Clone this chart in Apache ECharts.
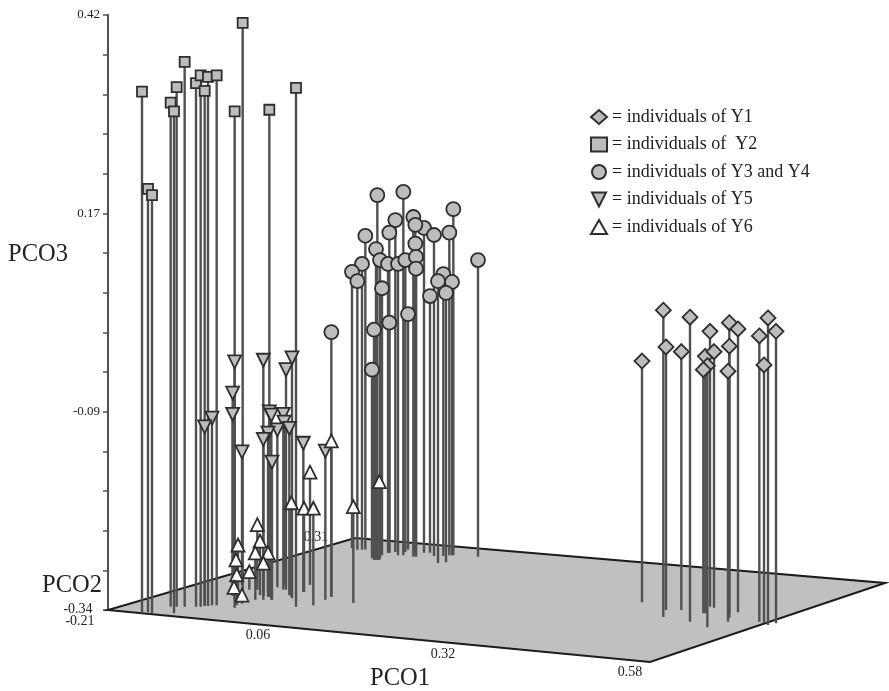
<!DOCTYPE html>
<html><head><meta charset="utf-8"><style>html,body{margin:0;padding:0;background:#fff}#c{width:889px;height:691px}</style>
<script src="https://cdn.jsdelivr.net/npm/echarts@6/dist/echarts.min.js"></script></head><body><div id="c"></div>
<script>
// Projected PCO1 position, floor level and PCO3 top of each individual.
const y1X=[0.591,0.623,0.627,0.650,0.663,0.693,0.686,0.699,0.689,0.683,0.722,0.735,0.722,0.720,0.767,0.780,0.792,0.774];
const y1Floor=[-0.330,-0.349,-0.340,-0.340,-0.355,-0.336,-0.344,-0.337,-0.362,-0.344,-0.344,-0.343,-0.350,-0.355,-0.355,-0.359,-0.357,-0.357];
const y1Top=[-0.022,0.043,-0.004,-0.010,0.034,0.016,-0.016,-0.010,-0.028,-0.033,0.027,0.019,-0.003,-0.035,0.010,0.033,0.016,-0.027];

const y2X=[-0.159,-0.150,-0.144,-0.116,-0.111,-0.107,-0.095,-0.078,-0.071,-0.060,-0.065,-0.047,-0.020,-0.008,0.032,0.072];
const y2Floor=[-0.344,-0.343,-0.344,-0.336,-0.344,-0.336,-0.336,-0.336,-0.336,-0.335,-0.335,-0.334,-0.337,-0.327,-0.323,-0.336];
const y2Top=[0.322,0.198,0.190,0.308,0.297,0.328,0.360,0.333,0.343,0.341,0.323,0.343,0.297,0.410,0.299,0.327];

const y34X=[0.194,0.233,0.308,0.345,0.176,0.221,0.248,0.212,0.264,0.279,0.302,0.251,0.251,0.192,0.198,0.210,0.225,0.236,0.252,0.252,0.171,0.156,0.164,0.201,0.293,0.285,0.306,0.297,0.273,0.240,0.212,0.189,0.186,0.125];
const y34Floor=[-0.276,-0.270,-0.270,-0.272,-0.263,-0.266,-0.272,-0.267,-0.267,-0.271,-0.270,-0.266,-0.270,-0.276,-0.274,-0.267,-0.270,-0.266,-0.267,-0.272,-0.263,-0.261,-0.263,-0.270,-0.271,-0.280,-0.270,-0.279,-0.267,-0.263,-0.267,-0.276,-0.274,-0.323];
const y34Top=[0.190,0.194,0.172,0.107,0.138,0.158,0.162,0.142,0.148,0.139,0.142,0.152,0.128,0.121,0.107,0.102,0.102,0.107,0.111,0.096,0.102,0.092,0.080,0.071,0.089,0.080,0.079,0.065,0.061,0.038,0.027,0.018,-0.033,0.015];

const y5X=[-0.020,-0.023,-0.023,-0.054,-0.065,-0.009,0.023,0.066,0.057,0.032,0.035,0.053,0.054,0.044,0.062,0.030,0.023,0.036,0.083,0.116];
const y5Floor=[-0.327,-0.322,-0.314,-0.334,-0.334,-0.308,-0.322,-0.325,-0.314,-0.323,-0.327,-0.314,-0.308,-0.311,-0.321,-0.317,-0.327,-0.327,-0.317,-0.327];
const y5Top=[-0.023,-0.063,-0.090,-0.095,-0.106,-0.138,-0.021,-0.018,-0.033,-0.087,-0.091,-0.090,-0.100,-0.110,-0.108,-0.114,-0.122,-0.151,-0.127,-0.137];

const y6X=[0.014,-0.015,0.018,0.011,0.030,-0.018,0.023,0.002,-0.017,-0.021,-0.009,0.065,0.084,0.098,0.158,0.125,0.093,0.197];
const y6Floor=[-0.314,-0.331,-0.321,-0.327,-0.323,-0.327,-0.322,-0.314,-0.334,-0.322,-0.332,-0.323,-0.317,-0.334,-0.331,-0.323,-0.308,-0.276];
const y6Top=[-0.231,-0.257,-0.252,-0.267,-0.267,-0.276,-0.280,-0.291,-0.295,-0.311,-0.321,-0.203,-0.210,-0.210,-0.208,-0.124,-0.164,-0.176];

const planeX=[-0.21,0.603,0.9555,0.1605];
const planeY=[-0.34,-0.4064,-0.3055,-0.248];

const pco3Ticks=[-0.34,-0.2893,-0.2387,-0.188,-0.1373,-0.0867,-0.036,0.0147,0.0653,0.116,0.1667,0.2173,0.268,0.3187,0.3693,0.42];
const pco3Labels=[-0.0867,0.1667,0.42];

const floorTickText=['-0.34','-0.21','0.06','0.32','0.58','0.31'];
const floorTickX=[-0.255,-0.252,0.015,0.2925,0.573,0.102];
const floorTickY=[-0.3387,-0.354,-0.3719,-0.3962,-0.4192,-0.2467];

const legendNames=['= individuals of Y1','= individuals of  Y2','= individuals of Y3 and Y4','= individuals of Y5','= individuals of Y6'];

const SERIF='"Liberation Serif","Times New Roman",serif';
const STEM='#505050', EDGE='#2e2e2e', GREY='#bdbdbd';

const zip=(...a)=>a[0].map((_,i)=>a.map(c=>c[i]));

function stems(xs,floors,tops){
  return {type:'custom',silent:true,clip:false,data:zip(xs,floors,tops),
    encode:{x:0,y:[1,2]},
    renderItem(p,api){
      const a=api.coord([api.value(0),api.value(1)]),b=api.coord([api.value(0),api.value(2)]);
      return {type:'line',shape:{x1:a[0],y1:a[1],x2:b[0],y2:b[1]},style:{stroke:STEM,lineWidth:2.4}};
    }};
}
function marks(name,xs,tops,symbol,size,fill,rotate){
  return {type:'scatter',name,silent:true,clip:false,data:zip(xs,tops),symbol,symbolSize:size,symbolRotate:rotate||0,
    itemStyle:{color:fill,opacity:1,borderColor:EDGE,borderWidth:1.8}};
}
const plane={type:'custom',silent:true,clip:false,data:zip(planeX,planeY),encode:{x:0,y:1},
  renderItem(p,api){
    if(p.dataIndex!==0) return null;
    return {type:'polygon',shape:{points:zip(planeX,planeY).map(d=>api.coord(d))},
      style:{fill:'#c0c0c0',stroke:'#1c1c1c',lineWidth:2}};
  }};
const floorTicks={type:'custom',silent:true,clip:false,z:1,data:zip(floorTickX,floorTickY),encode:{x:0,y:1},
  renderItem(p,api){
    const c=api.coord([api.value(0),api.value(1)]);
    return {type:'text',style:{text:floorTickText[p.dataIndex],x:c[0],y:c[1],align:'center',verticalAlign:'middle',
      font:'14px '+SERIF,fill:'#222'}};
  }};

const chart=echarts.init(document.getElementById('c'),null,{renderer:'canvas'});
const lab=(text,x,y)=>({type:'text',x,y,style:{text,font:'24.5px '+SERIF,fill:'#222',textVerticalAlign:'middle'}});
chart.setOption({
  animation:false,backgroundColor:'#fff',
  grid:{left:108,top:15,bottom:81,width:526.67,containLabel:false},
  xAxis:{type:'value',min:-0.21,max:0.58,show:false},
  yAxis:{type:'value',min:-0.34,max:0.42,position:'left',splitLine:{show:false},
    axisLine:{show:true,onZero:false,lineStyle:{color:'#505050',width:2}},
    axisTick:{show:true,length:5,customValues:pco3Ticks,lineStyle:{color:'#505050',width:1.5}},
    axisLabel:{show:true,customValues:pco3Labels,margin:8,fontFamily:SERIF,fontSize:13,color:'#222',formatter:v=>v.toFixed(2)}},
  legend:{left:585,top:103,orient:'vertical',itemWidth:16,itemHeight:14,itemGap:9.5,selectedMode:false,
    textStyle:{fontFamily:SERIF,fontSize:18,color:'#222'},
    data:[{name:legendNames[0],icon:'diamond'},{name:legendNames[1],icon:'rect'},{name:legendNames[2],icon:'circle'},
      {name:legendNames[3],icon:'path://M0,0 L10,0 L5,10 Z'},{name:legendNames[4],icon:'triangle'}]},
  graphic:[lab('PCO3',8,255),lab('PCO2',42,586),lab('PCO1',370,679)],
  series:[plane,floorTicks,
    stems(y1X,y1Floor,y1Top),marks(legendNames[0],y1X,y1Top,'diamond',15,GREY),
    stems(y2X,y2Floor,y2Top),marks(legendNames[1],y2X,y2Top,'rect',10,GREY),
    stems(y34X,y34Floor,y34Top),marks(legendNames[2],y34X,y34Top,'circle',14,GREY),
    stems(y5X,y5Floor,y5Top),marks(legendNames[3],y5X,y5Top,'triangle',13,GREY,180),
    stems(y6X,y6Floor,y6Top),marks(legendNames[4],y6X,y6Top,'triangle',13,'#ffffff')]
});
</script></body></html>
